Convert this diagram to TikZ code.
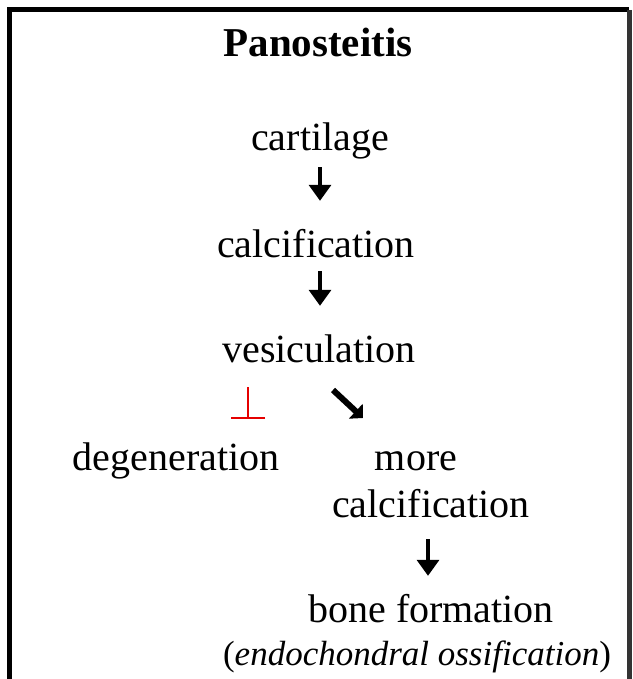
\documentclass[tikz,border=0pt]{standalone}
\usepackage{fontspec}
\setmainfont{Liberation Serif}
\usetikzlibrary{arrows.meta}
\begin{document}
\begin{tikzpicture}[x=1pt,y=-1pt,
  lbl/.style={anchor=base,inner sep=0pt,font=\fontsize{40}{48}\selectfont,text height=27pt,text depth=9pt},
  ttl/.style={anchor=base,inner sep=0pt,font=\fontsize{41}{48}\selectfont\bfseries},
  itl/.style={anchor=base,inner sep=0pt,font=\fontsize{35}{42}\selectfont},
  darr/.style={line width=3.5pt,-{Triangle[width=22pt,length=16pt]}},
  diagarr/.style={line width=6pt,-{Triangle[angle=90:14pt]}},
  inhib/.style={draw=red!90!black,line width=2.5pt,-{Bar[width=34pt,line width=2pt]}},
  frameline/.style={line width=5pt}]
\useasboundingbox (0,0) rectangle (632,679);
\fill[white] (0,0) rectangle (632,679);
% frame
\draw[frameline,black] (9.5,679) -- (9.5,10) -- (629,10);
\draw[frameline,black!80] (629,10) -- (629,679);
% texts
\node[ttl] (title) at (318,57) {Panosteitis};
\node[lbl] (cart) at (320,150) {cartilage};
\node[lbl] (calc1) at (316,257) {calcification};
\node[lbl] (vesic) at (319,362) {vesiculation};
\node[lbl] (degen) at (176,470) {degeneration};
\node[lbl] (more) at (416,470) {more};
\node[lbl] (calc2) at (431,517) {calcification};
\node[lbl] (bone) at (431,622) {bone formation};
\node[itl] (endo) at (417,665) {(\textit{endochondral ossification})};
% connectors
\draw[darr,shorten <=8pt,shorten >=29pt] (cart.south) -- (cart.south |- calc1.north);
\draw[darr,shorten <=5pt,shorten >=29pt] (cart.south |- calc1.south) -- (cart.south |- vesic.north);
\draw[darr,shorten <=13pt,shorten >=19pt,transform canvas={xshift=-3pt}] (calc2.south) -- (calc2.south |- bone.north);
\coordinate (d1) at (333,390);
\coordinate (d2) at (363,418);
\draw[diagarr] (d1) -- (d2);
\coordinate (t1) at (248,387);
\coordinate (t2) at (248,419);
\draw[inhib] (t1) -- (t2);
\end{tikzpicture}
\end{document}
